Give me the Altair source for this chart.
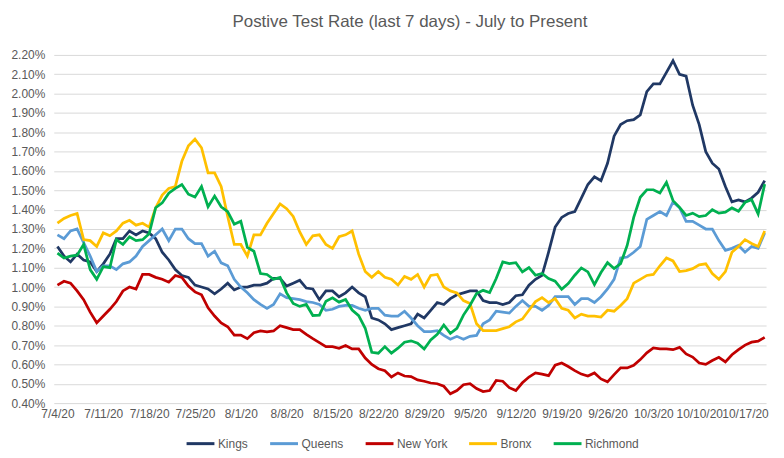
import altair as alt
import pandas as pd

# ---- data (percent values) ----
start_date = "2020-07-04"
n_days = 109
dates = pd.date_range(start_date, periods=n_days, freq="D").strftime("%Y-%m-%d").tolist()

kings = [1.21, 1.16, 1.13, 1.17, 1.14, 1.13, 1.08, 1.12, 1.17, 1.25, 1.25, 1.29, 1.27, 1.29, 1.28, 1.25, 1.18, 1.14, 1.09, 1.06, 1.05, 1.01,
         1.00, 0.99, 0.965, 0.99, 1.02, 0.985, 1.00, 1.00, 1.01, 1.01, 1.02, 1.045, 1.045, 1.005, 1.02, 1.035, 0.995, 0.99, 0.935, 0.98, 0.98, 0.95, 0.97,
         1.00, 0.97, 0.95, 0.84, 0.83, 0.81, 0.78, 0.79, 0.80, 0.81, 0.86, 0.84, 0.88, 0.92, 0.91, 0.94, 0.96, 0.97, 0.98, 0.98, 0.93, 0.92,
         0.92, 0.91, 0.92, 0.955, 0.96, 1.01, 1.04, 1.06, 1.18, 1.31, 1.36, 1.38, 1.39, 1.46, 1.53, 1.57, 1.55, 1.64, 1.78, 1.84, 1.86, 1.865,
         1.89, 2.01, 2.05, 2.05, 2.11, 2.17, 2.10, 2.09, 1.94, 1.84, 1.70, 1.64, 1.61, 1.52, 1.44, 1.45, 1.44, 1.46, 1.49, 1.55]

queens = [1.27, 1.25, 1.29, 1.30, 1.23, 1.16, 1.08, 1.11, 1.11, 1.09, 1.12, 1.13, 1.16, 1.21, 1.24, 1.27, 1.30, 1.24, 1.30, 1.30, 1.25, 1.225,
          1.225, 1.16, 1.185, 1.125, 1.11, 1.04, 1.00, 0.97, 0.935, 0.91, 0.89, 0.91, 0.965, 0.945, 0.94, 0.935, 0.925, 0.92, 0.91, 0.88, 0.885, 0.90, 0.905,
          0.905, 0.89, 0.88, 0.89, 0.89, 0.855, 0.85, 0.85, 0.875, 0.84, 0.80, 0.77, 0.77, 0.775, 0.75, 0.73, 0.745, 0.73, 0.745, 0.75, 0.81, 0.83,
          0.875, 0.87, 0.865, 0.90, 0.93, 0.90, 0.90, 0.88, 0.905, 0.95, 0.95, 0.95, 0.91, 0.94, 0.94, 0.92, 0.95, 0.99, 1.04, 1.15, 1.155, 1.18,
          1.21, 1.35, 1.37, 1.39, 1.37, 1.44, 1.41, 1.34, 1.34, 1.32, 1.30, 1.30, 1.24, 1.19, 1.20, 1.215, 1.18, 1.21, 1.20, 1.28]

new_york = [1.01, 1.03, 1.02, 0.98, 0.935, 0.87, 0.815, 0.85, 0.885, 0.925, 0.98, 1.00, 0.99, 1.065, 1.065, 1.05, 1.04, 1.025, 1.06, 1.05, 1.005, 0.975,
            0.96, 0.893, 0.85, 0.815, 0.795, 0.752, 0.752, 0.733, 0.764, 0.773, 0.768, 0.773, 0.80, 0.79, 0.78, 0.78, 0.755, 0.733, 0.713, 0.692, 0.692, 0.683, 0.698,
            0.68, 0.68, 0.633, 0.60, 0.578, 0.567, 0.535, 0.556, 0.54, 0.537, 0.52, 0.513, 0.504, 0.50, 0.487, 0.448, 0.465, 0.495, 0.50, 0.475, 0.46, 0.465,
            0.517, 0.513, 0.48, 0.465, 0.505, 0.535, 0.556, 0.55, 0.542, 0.596, 0.607, 0.589, 0.568, 0.55, 0.54, 0.556, 0.525, 0.51, 0.547, 0.582, 0.582, 0.595,
            0.625, 0.66, 0.685, 0.68, 0.68, 0.676, 0.688, 0.654, 0.638, 0.607, 0.60, 0.62, 0.637, 0.613, 0.65, 0.676, 0.70, 0.715, 0.72, 0.74]

bronx = [1.33, 1.355, 1.37, 1.38, 1.245, 1.24, 1.21, 1.28, 1.265, 1.29, 1.33, 1.345, 1.32, 1.33, 1.31, 1.41, 1.475, 1.51, 1.52, 1.65, 1.73, 1.765,
         1.72, 1.59, 1.59, 1.52, 1.365, 1.22, 1.22, 1.16, 1.27, 1.27, 1.33, 1.38, 1.43, 1.405, 1.365, 1.285, 1.22, 1.265, 1.27, 1.22, 1.20, 1.26, 1.27,
         1.29, 1.17, 1.08, 1.05, 1.08, 1.05, 1.04, 1.01, 1.055, 1.04, 1.065, 1.00, 1.06, 1.065, 1.00, 0.98, 0.97, 0.93, 0.915, 0.81, 0.775, 0.775,
         0.775, 0.785, 0.795, 0.82, 0.835, 0.88, 0.925, 0.945, 0.92, 0.94, 0.89, 0.88, 0.84, 0.86, 0.85, 0.85, 0.845, 0.88, 0.875, 0.905, 0.94, 1.02,
         1.04, 1.06, 1.065, 1.11, 1.15, 1.135, 1.08, 1.085, 1.095, 1.115, 1.12, 1.07, 1.04, 1.08, 1.18, 1.21, 1.245, 1.225, 1.21, 1.29]

richmond = [1.175, 1.15, 1.16, 1.165, 1.22, 1.09, 1.04, 1.105, 1.10, 1.245, 1.22, 1.26, 1.24, 1.245, 1.275, 1.41, 1.435, 1.485, 1.51, 1.53, 1.48, 1.465,
            1.52, 1.415, 1.47, 1.415, 1.39, 1.325, 1.34, 1.205, 1.185, 1.07, 1.065, 1.04, 1.05, 0.97, 0.915, 0.90, 0.91, 0.853, 0.855, 0.927, 0.944, 0.922, 0.936,
            0.881, 0.852, 0.787, 0.663, 0.658, 0.692, 0.658, 0.684, 0.715, 0.722, 0.71, 0.68, 0.727, 0.756, 0.804, 0.761, 0.787, 0.855, 0.906, 0.966, 0.983, 0.972,
            1.044, 1.13, 1.121, 1.126, 1.078, 1.101, 1.061, 1.07, 1.044, 1.03, 0.988, 1.018, 1.061, 1.099, 1.078, 1.013, 1.075, 1.126, 1.096, 1.121, 1.215, 1.36,
            1.464, 1.503, 1.503, 1.486, 1.541, 1.447, 1.412, 1.37, 1.382, 1.364, 1.37, 1.40, 1.382, 1.387, 1.409, 1.392, 1.438, 1.452, 1.378, 1.532]

boroughs = ["Kings", "Queens", "New York", "Bronx", "Richmond"]
colors = ["#203864", "#5B9BD5", "#C00000", "#FFC000", "#00B050"]

tick_dates = ["2020-07-04", "2020-07-11", "2020-07-18", "2020-07-25", "2020-08-01",
              "2020-08-08", "2020-08-15", "2020-08-22", "2020-08-29", "2020-09-05",
              "2020-09-12", "2020-09-19", "2020-09-26", "2020-10-03", "2020-10-10",
              "2020-10-17"]
y_ticks = [0.40, 0.50, 0.60, 0.70, 0.80, 0.90, 1.00, 1.10, 1.20, 1.30, 1.40,
           1.50, 1.60, 1.70, 1.80, 1.90, 2.00, 2.10, 2.20]

title_text = "Postive Test Rate (last 7 days) - July to Present"

# ---- build table ----
rows = []
for name, vals in zip(boroughs, [kings, queens, new_york, bronx, richmond]):
    for d, v in zip(dates, vals):
        rows.append({"date": d, "borough": name, "rate": v / 100.0})
df = pd.DataFrame(rows)


def ms(s):
    return int(pd.Timestamp(s, tz="UTC").value // 10**6)


hour = 3600 * 1000
x_domain = [ms(dates[0]) - int(13.5 * hour), ms(dates[-1]) + 5 * hour]
x_values = [ms(s) for s in tick_dates]
y_values = [round(t / 100.0, 4) for t in y_ticks]

font = "Liberation Sans"
gray = "#595959"

chart = alt.Chart(df).mark_line(strokeWidth=2.75, clip=False).encode(
    x=alt.X(
        "date:T",
        scale=alt.Scale(domain=x_domain, nice=False),
        axis=alt.Axis(
            title=None,
            values=x_values,
            labelExpr="utcFormat(datum.value, '%-m/%-d/%y')",
            grid=False,
            domain=False,
            ticks=False,
            tickSize=0,
            labelPadding=5,
            labelOverlap=False,
            labelFont=font,
            labelFontSize=12,
            labelColor=gray,
        ),
    ),
    y=alt.Y(
        "rate:Q",
        scale=alt.Scale(domain=[0.004, 0.022], nice=False, zero=False),
        axis=alt.Axis(
            title=None,
            values=y_values,
            format=".2%",
            grid=True,
            gridColor="#D9D9D9",
            gridWidth=1,
            domain=False,
            ticks=False,
            tickSize=0,
            labelPadding=9,
            labelFont=font,
            labelFontSize=12,
            labelColor=gray,
        ),
    ),
    color=alt.Color(
        "borough:N",
        scale=alt.Scale(domain=boroughs, range=colors),
        sort=boroughs,
        legend=alt.Legend(
            title=None,
            orient="none",
            direction="horizontal",
            legendX=132,
            legendY=375,
            symbolType="stroke",
            symbolSize=784,
            symbolStrokeWidth=3,
            labelOffset=2,
            columnPadding=15,
            labelFont=font,
            labelFontSize=12,
            labelColor=gray,
        ),
    ),
).properties(
    width=716,
    height=350,
    title=alt.TitleParams(
        text=title_text,
        font=font,
        fontSize=17,
        fontWeight="normal",
        color=gray,
        anchor="middle",
        offset=18,
    ),
    padding={"left": 2, "top": 4, "right": 5, "bottom": 5},
).configure_view(strokeWidth=0)

chart.save("out.html", embed_options={"renderer": "svg", "actions": False})
